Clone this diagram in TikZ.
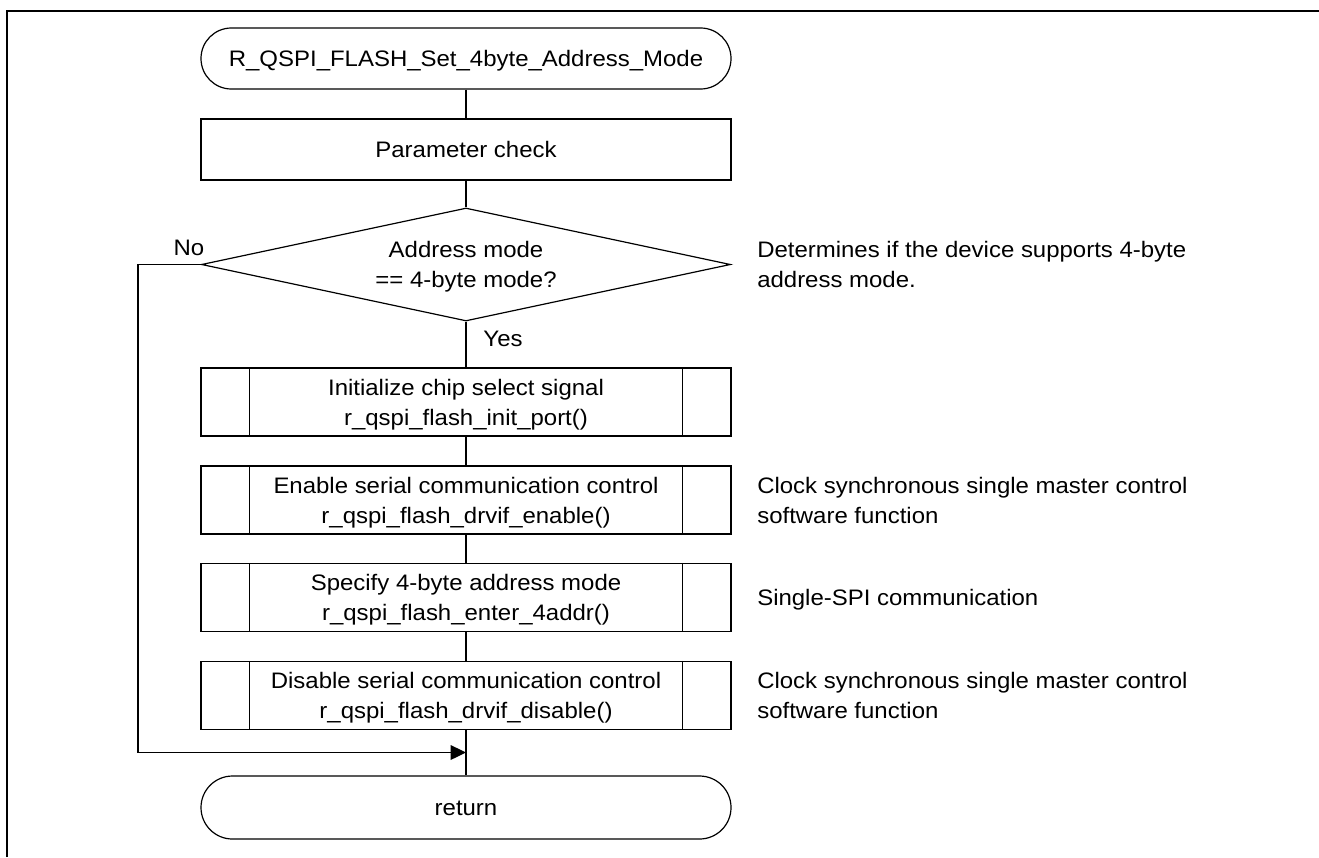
\documentclass[tikz,border=0pt]{standalone}
\usepackage{fontspec}
\setmainfont{Liberation Sans}[FakeStretch=1.07]
\usetikzlibrary{shapes.geometric,arrows.meta}
\newcommand\ls{\rule[-5.25pt]{0pt}{22.5pt}}
\begin{document}
\begin{tikzpicture}[x=0.75pt,y=-0.75pt,
  every node/.style={font=\fontsize{16.8pt}{22.5pt}\selectfont, inner sep=0pt, align=center},
  conn/.style={line width=0.9pt},
  frameline/.style={line width=1.65pt},
  terminal/.style={draw, line width=0.9pt, rounded corners=22.8pt, minimum width=397.5pt, minimum height=45.75pt},
  endterm/.style={draw, line width=0.9pt, rounded corners=23.6pt, minimum width=397.5pt, minimum height=47.25pt},
  process/.style={draw, line width=0.9pt, minimum width=397.5pt, minimum height=45.75pt},
  subr/.style={draw, line width=0.9pt, minimum width=397.5pt, minimum height=51pt},
  decision/.style={diamond, draw, line width=0.9pt, aspect=4.68, minimum width=396.75pt, minimum height=84.75pt},
  note/.style={anchor=west, align=left},
  tip/.style={-{Triangle[length=11.5pt,width=11pt]}}
]
\useasboundingbox (0,0) rectangle (1319,857);
\draw[frameline] (6.7,857) -- (6.7,10.7) -- (1319,10.7);

\node[terminal] (start) at (466,58.5) {\ls R\_QSPI\_FLASH\_Set\_4byte\_Address\_Mode};
\node[process] (param) at (466,149.5) {\ls Parameter check};
\node[decision] (dec) at (466,264.5) {\ls Address mode\\\ls == 4-byte mode?};
\node[subr] (b1) at (466,402) {\ls Initialize chip select signal\\\ls r\_qspi\_flash\_init\_port()};
\node[subr] (b2) at (466,500) {\ls Enable serial communication control\\\ls r\_qspi\_flash\_drvif\_enable()};
\node[subr] (b3) at (466,597.5) {\ls Specify 4-byte address mode\\\ls r\_qspi\_flash\_enter\_4addr()};
\node[subr] (b4) at (466,695.5) {\ls Disable serial communication control\\\ls r\_qspi\_flash\_drvif\_disable()};
\node[endterm] (ret) at (466,807.5) {\ls return};

\foreach \n in {b1,b2,b3,b4} {
  \draw[conn] ([xshift=36.75pt]\n.north west) -- ([xshift=36.75pt]\n.south west);
  \draw[conn] ([xshift=-36.75pt]\n.north east) -- ([xshift=-36.75pt]\n.south east);
}

\node (no) at (189,247) {\ls No};
\node (yes) at (503,338.5) {\ls Yes};

\node[note] (n1) at (757,264) {\ls Determines if the device supports 4-byte\\\ls address mode.};
\node[note] (n2) at (757,500) {\ls Clock synchronous single master control\\\ls software function};
\node[note] (n3) at (757,597.5) {\ls Single-SPI communication};
\node[note] (n4) at (757,695.5) {\ls Clock synchronous single master control\\\ls software function};

\coordinate (join) at (466,752.5);
\coordinate (nl) at (138,752.5);

\draw[conn] (start) -- (param);
\draw[conn] (param) -- (dec);
\draw[conn] (dec) -- (b1);
\draw[conn] (b1) -- (b2);
\draw[conn] (b2) -- (b3);
\draw[conn] (b3) -- (b4);
\draw[conn] (b4) -- (ret);
\draw[conn] (dec.west) -| (nl);
\draw[conn,tip] (nl) -- (join);
\end{tikzpicture}
\end{document}
